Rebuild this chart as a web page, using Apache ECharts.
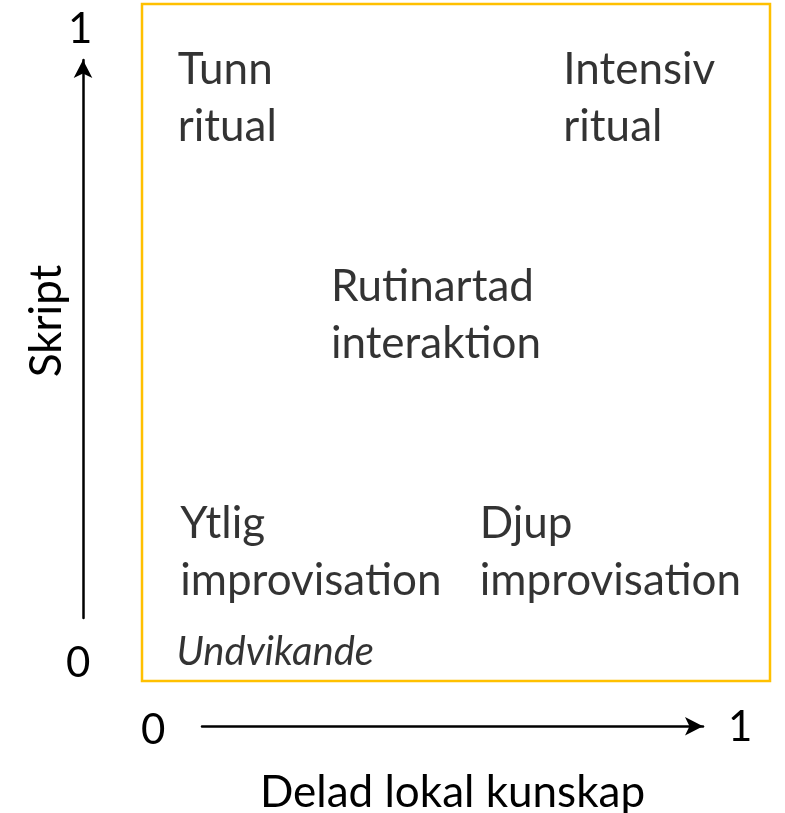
<!DOCTYPE html>
<html>
<head>
<meta charset="utf-8">
<style>
  html, body { margin: 0; padding: 0; background: #fff; }
  #chart { width: 785px; height: 813px; }
</style>
</head>
<body>
<div id="chart"></div>
<script src="https://cdn.jsdelivr.net/npm/echarts@6/dist/echarts.min.js"></script>
<script>
// quadrant labels (x = delad lokal kunskap, y = skript)
var labels = ['Tunn\nritual', 'Intensiv\nritual', 'Rutinartad\ninteraktion', 'Ytlig\nimprovisation', 'Djup\nimprovisation'];
var xs = [0.056, 0.67, 0.30, 0.06, 0.537];
var ys = [0.861, 0.861, 0.54, 0.19, 0.19];
var noteLabel = 'Undvikande';
var notePos = [0.054, 0.043];
var axisTicks = ['0', '1'];

var FONT = 'Lato, "Noto Sans", sans-serif';

var myChart = echarts.init(document.getElementById('chart'));

var pts = labels.map(function (t, i) {
    return { name: t, value: [xs[i], ys[i]] };
});

var arrowLine = { show: true, symbol: ['none', 'arrow'], symbolSize: [14, 18], lineStyle: { color: '#000', width: 2.5 } };
var hidden = function (g) { return { gridIndex: g, type: 'value', min: 0, max: 1, show: false }; };

var option = {
    backgroundColor: '#fff',
    animation: false,
    grid: [
        // orange frame
        { left: 142, right: 15, top: 4, bottom: 132, show: true, borderColor: '#FFC000', borderWidth: 2.5, backgroundColor: 'transparent' },
        // x arrow
        { left: 202, right: 82, top: 726, height: 1 },
        // y arrow
        { left: 83, width: 1, top: 60, bottom: 195 }
    ],
    xAxis: [
        hidden(0),
        {
            gridIndex: 1, type: 'value', min: 0, max: 1, position: 'bottom',
            axisLine: arrowLine,
            axisTick: { show: false }, axisLabel: { show: false }, splitLine: { show: false },
            name: 'Delad lokal kunskap', nameLocation: 'middle', nameGap: 45,
            nameTextStyle: { fontFamily: FONT, fontSize: 44, color: '#000' }
        },
        hidden(2)
    ],
    yAxis: [
        hidden(0),
        hidden(1),
        {
            gridIndex: 2, type: 'value', min: 0, max: 1, position: 'left',
            axisLine: arrowLine,
            axisTick: { show: false }, axisLabel: { show: false }, splitLine: { show: false },
            name: 'Skript', nameLocation: 'middle', nameGap: 14, nameRotate: 90,
            nameTextStyle: { fontFamily: FONT, fontSize: 44, color: '#000', padding: [0, 0, 0, 36] }
        }
    ],
    graphic: [
        { type: 'text', left: 68, top: 8, style: { text: axisTicks[1], font: '42px ' + FONT, fill: '#000' } },
        { type: 'text', left: 66, top: 642, style: { text: axisTicks[0], font: '42px ' + FONT, fill: '#000' } },
        { type: 'text', left: 141, top: 709, style: { text: axisTicks[0], font: '42px ' + FONT, fill: '#000' } },
        { type: 'text', left: 728, top: 706, style: { text: axisTicks[1], font: '42px ' + FONT, fill: '#000' } }
    ],
    series: [
        {
            type: 'scatter', xAxisIndex: 0, yAxisIndex: 0, symbolSize: 1,
            itemStyle: { color: 'transparent' },
            data: pts,
            label: {
                show: true, position: 'right', distance: 0,
                formatter: function (p) { return p.name; },
                fontFamily: FONT, fontSize: 44, lineHeight: 57, color: '#000',
                align: 'left', verticalAlign: 'middle'
            }
        },
        {
            type: 'scatter', xAxisIndex: 0, yAxisIndex: 0, symbolSize: 1,
            itemStyle: { color: 'transparent' },
            data: [{ name: noteLabel, value: notePos }],
            label: {
                show: true, position: 'right', distance: 0,
                formatter: function (p) { return p.name; },
                fontFamily: FONT, fontSize: 40, fontStyle: 'italic', color: '#000',
                align: 'left', verticalAlign: 'middle'
            }
        }
    ]
};

myChart.setOption(option);
</script>
</body>
</html>
